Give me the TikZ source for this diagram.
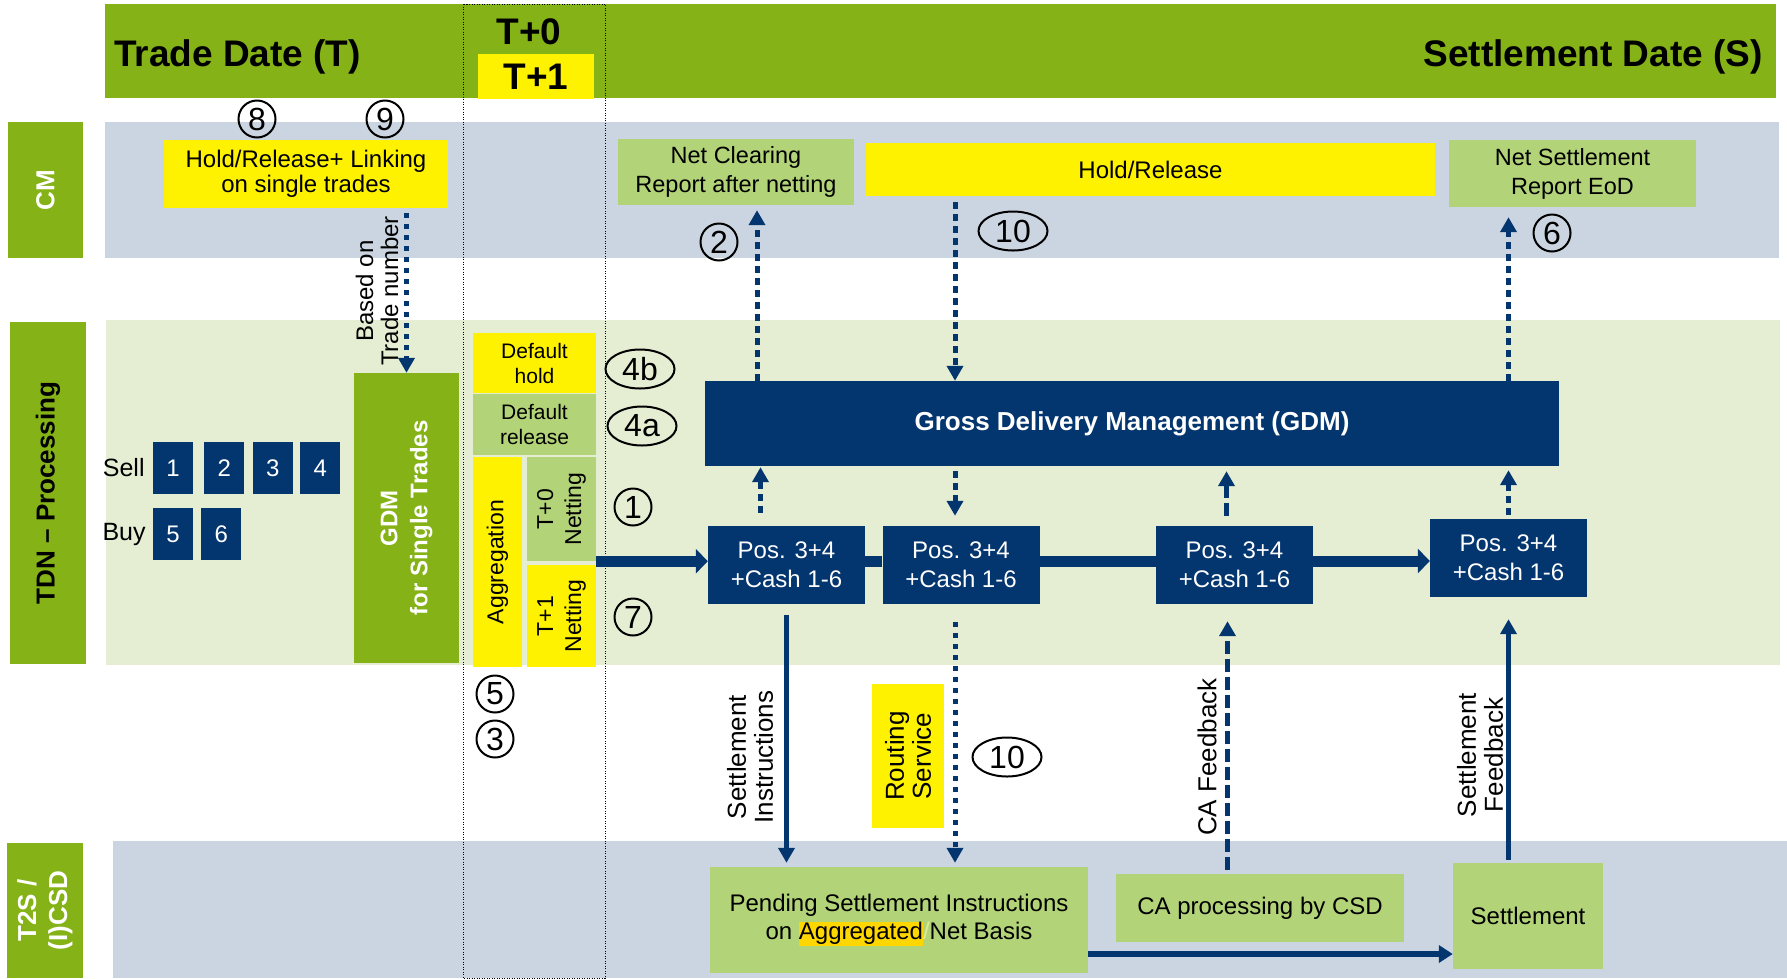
\documentclass[tikz,border=0pt]{standalone}
\usepackage{fontspec}
\setmainfont{Liberation Sans}
\usetikzlibrary{arrows.meta,positioning,shapes.geometric}

\definecolor{hdrgreen}{RGB}{132,178,23}
\definecolor{cmblue}{RGB}{203,213,225}
\definecolor{tdngreen}{RGB}{229,238,211}
\definecolor{boxgreen}{RGB}{178,211,120}
\definecolor{navy}{RGB}{3,53,111}
\definecolor{hlyellow}{RGB}{255,215,0}
\definecolor{faintslash}{RGB}{222,236,150}

\newcommand{\setfs}[2]{\fontsize{#1}{#2}\selectfont}

\begin{document}
\begin{tikzpicture}[x=1pt,y=-1pt,
  lane/.style={fill=hdrgreen,inner sep=0pt,align=center,font=\setfs{26}{31}\bfseries},
  ybox/.style={fill=yellow,inner sep=0pt,align=center,font=\setfs{24}{28}},
  gbox/.style={fill=boxgreen,inner sep=0pt,align=center,font=\setfs{24}{28}},
  nbox/.style={fill=navy,text=white,inner sep=0pt,align=center,font=\setfs{24}{29}},
  numbox/.style={nbox,minimum width=40pt,minimum height=52pt},
  posbox/.style={nbox,minimum width=157pt,minimum height=78pt},
  numc/.style={circle,draw,line width=2pt,minimum size=37pt,inner sep=0pt,font=\setfs{32}{32}},
  nume/.style={ellipse,draw,line width=2pt,minimum width=69pt,minimum height=39pt,inner sep=0pt,font=\setfs{32}{32}},
  rotlbl/.style={rotate=90,align=center,inner sep=0pt,font=\setfs{26}{27}},
  hdrtxt/.style={inner sep=0pt,font=\setfs{37}{40}\bfseries},
  dotarrow/.style={navy,line width=5pt,dash pattern=on 7pt off 5pt,-{Triangle[length=15pt,width=16pt]}},
  sqdotarrow/.style={navy,line width=5pt,dash pattern=on 5pt off 6pt,-{Triangle[length=15pt,width=16pt]}},
  dasharrow/.style={navy,line width=5pt,dash pattern=on 13pt off 5pt,-{Triangle[length=15pt,width=16pt]}},
  solidarrow/.style={navy,line width=5pt,-{Triangle[length=15pt,width=16pt]}},
  bigline/.style={navy,line width=11pt},
  bigarrow/.style={navy,line width=11pt,-{Triangle[length=12pt,width=24pt]}},
  medarrow/.style={navy,line width=6pt,-{Triangle[length=14pt,width=17pt]}}]

  \useasboundingbox (0,0) rectangle (1787,978);

  %bands
  \fill[hdrgreen] (105,4) rectangle (1776,98);
  \fill[cmblue] (105,122) rectangle (1779,258);
  \fill[tdngreen] (106,320) rectangle (1780,665);
  \fill[cmblue] (113,841) rectangle (1787,978);

  %T+0 / T+1 column
  \draw[line width=1pt,dash pattern=on 1pt off 1.5pt] (463,4) rectangle (605,978);

  %header
  \node[hdrtxt,anchor=base west] (tdate) at (114,66) {Trade Date (T)};
  \node[hdrtxt,anchor=base east] (sdate) at (1763,66) {Settlement Date (S)};
  \node[hdrtxt,anchor=base] (tzero) at (529,44) {T+0};
  \node[ybox,minimum width=116pt,minimum height=45pt,font=\setfs{37}{40}\bfseries] (tone) at (536,76.5) {T+1};

  %lane titles
  \node[lane,rotate=90,minimum width=136pt,minimum height=75pt,text=white] (lcm) at (45.5,190) {CM};
  \node[lane,rotate=90,minimum width=342pt,minimum height=76pt] (ltdn) at (48,493) {TDN – Processing};
  \node[lane,rotate=90,minimum width=135pt,minimum height=76pt,text=white] (lt2s) at (45,910.5) {T2S /\\(I)CSD};

  %CM row
  \node[ybox,minimum width=284pt,minimum height=68pt,font=\setfs{24}{25}] (hrlink) at (306,174) {Hold/Release+ Linking\\on single trades};
  \node[gbox,minimum width=236pt,minimum height=66pt,font=\setfs{23.5}{29}] (netclr) at (736,172) {Net Clearing\\Report after netting};
  \node[ybox,minimum width=569pt,minimum height=53pt] (holdrel) at (1150.5,169.5) {Hold/Release};
  \node[gbox,minimum width=247pt,minimum height=67pt,font=\setfs{23.5}{29}] (netset) at (1572.5,173.5) {Net Settlement\\Report EoD};
  \node[numc] (n8) at (257,119) {8};
  \node[numc] (n9) at (385,119) {9};
  \node[numc] (n2) at (719,242) {2};
  \node[nume] (n10a) at (1013,231) {10};
  \node[numc] (n6) at (1552,233) {6};

  %TDN processing
  \node[rotlbl,font=\setfs{24}{25}] (basedon) at (377,291) {Based on\\Trade number};
  \node[numbox] (s1) at (173,468) {1};
  \node[numbox,right=11pt of s1] (s2) {2};
  \node[numbox,right=8pt of s2] (s3) {3};
  \node[numbox,right=7pt of s3] (s4) {4};
  \node[numbox,below=14pt of s1] (b5) {5};
  \node[numbox,right=8pt of b5] (b6) {6};
  \node[left=8pt of s1,inner sep=0pt,font=\setfs{25}{25}] (sell) {Sell};
  \node[left=7pt of b5,inner sep=0pt,font=\setfs{25}{25}] (buy) {Buy};
  \node[lane,rotate=90,minimum width=290pt,minimum height=105pt,text=white,font=\setfs{24}{30}\bfseries] (gdmst) at (406.5,518) {GDM\\for Single Trades};

  \node[ybox,minimum width=123pt,minimum height=60pt,font=\setfs{21}{25}] (defhold) at (534.5,363) {Default\\hold};
  \node[gbox,minimum width=123pt,minimum height=61pt,font=\setfs{21}{25}] (defrel) at (534.5,424.5) {Default\\release};
  \node[ybox,rotate=90,minimum width=210pt,minimum height=49pt,font=\setfs{23}{23}] (aggr) at (497.5,562) {Aggregation};
  \node[gbox,rotate=90,minimum width=104pt,minimum height=69pt,font=\setfs{23}{28}] (net0) at (561.5,509) {T+0\\Netting};
  \node[ybox,rotate=90,minimum width=102pt,minimum height=69pt,font=\setfs{23}{28}] (net1) at (561.5,616) {T+1\\Netting};
  \node[nume] (n4b) at (640,369) {4b};
  \node[nume] (n4a) at (642,426) {4a};
  \node[numc] (n1) at (633,507) {1};
  \node[numc] (n7) at (633,617) {7};

  \node[nbox,minimum width=854pt,minimum height=85pt,font=\setfs{26}{26}\bfseries] (gdm) at (1132,423.5) {Gross Delivery Management (GDM)};
  \node[posbox] (pos1) at (786.5,565) {Pos. 3+4\\+Cash 1-6};
  \node[posbox] (pos2) at (961,565) {Pos. 3+4\\+Cash 1-6};
  \node[posbox] (pos3) at (1234.5,565) {Pos. 3+4\\+Cash 1-6};
  \node[posbox] (pos4) at (1508.5,558) {Pos. 3+4\\+Cash 1-6};

  %T2S / CSD
  \node[numc] (n5) at (495,694) {5};
  \node[numc] (n3) at (495,739) {3};
  \node[rotlbl] (setinstr) at (750,757) {Settlement\\Instructions};
  \node[ybox,rotate=90,minimum width=144pt,minimum height=72pt,font=\setfs{26}{27}] (routing) at (908,756) {Routing\\Service};
  \node[nume] (n10b) at (1007,757) {10};
  \node[rotlbl] (cafb) at (1207,757) {CA Feedback};
  \node[rotlbl] (setfb) at (1480,755) {Settlement\\Feedback};
  \node[gbox,minimum width=378pt,minimum height=106pt] (pending) at (899,920)
    {Pending Settlement Instructions\\on {\fboxsep=0pt\colorbox{hlyellow}{\rule[-6pt]{0pt}{24pt}Aggregated}}\textcolor{faintslash}{/}Net Basis};
  \node[gbox,minimum width=288pt,minimum height=68pt] (cacsd) at (1260,908) {CA processing by CSD};
  \node[gbox,minimum width=150pt,minimum height=106pt] (settle) at (1528,916) {Settlement};

  %connectors
  \coordinate (x2) at ([xshift=21pt]netclr.south);
  \coordinate (x10) at ([xshift=-6pt]pos2.north);
  \coordinate (x1) at ([xshift=-26pt]pos1.north);
  \coordinate (x3) at ([xshift=-8pt]pos3.north);
  \coordinate (x3b) at ([xshift=-7pt]pos3.south);

  \draw[sqdotarrow,shorten <=5pt] (hrlink.south -| gdmst.east) -- (gdmst.east);
  \draw[dotarrow,shorten >=5pt] (x2 |- gdm.north) -- (x2 |- netclr.south);
  \draw[dotarrow,shorten <=6pt] (x10 |- holdrel.south) -- (x10 |- gdm.north);
  \draw[dotarrow,shorten >=10pt] (pos4.north |- gdm.north) -- (pos4.north |- netset.south);

  \draw[dotarrow,shorten <=13pt,shorten >=1pt] (x1) -- (x1 |- gdm.south);
  \draw[dotarrow,shorten <=5pt,shorten >=10pt] (x10 |- gdm.south) -- (x10);
  \draw[dasharrow,shorten <=10pt,shorten >=5pt] (x3) -- (x3 |- gdm.south);
  \draw[dotarrow,shorten <=4pt,shorten >=4pt] (pos4.north) -- (pos4.north |- gdm.south);

  \draw[bigarrow] (net0.south west) -- (net0.south west -| pos1.west);
  \draw[bigline] ([yshift=4pt]pos1.east) -- ([yshift=4pt]pos2.west);
  \draw[bigline] ([yshift=4pt]pos2.east) -- ([yshift=4pt]pos3.west);
  \draw[bigarrow] ([yshift=4pt]pos3.east) -- ([yshift=4pt]pos3.east -| pos4.west);

  \draw[solidarrow,shorten <=11pt,shorten >=4pt] (pos1.south) -- (pos1.south |- pending.north);
  \draw[sqdotarrow,shorten <=18pt,shorten >=4pt] (x10 |- pos2.south) -- (x10 |- pending.north);
  \draw[dasharrow,shorten <=4pt,shorten >=17pt] (x3b |- cacsd.north) -- (x3b);
  \draw[solidarrow,shorten <=3pt,shorten >=22pt] (settle.north -| pos4.south) -- (pos4.south);
  \draw[medarrow] ([yshift=-34pt]pending.east) -- ([yshift=-34pt]pending.east -| settle.west);

\end{tikzpicture}
\end{document}
